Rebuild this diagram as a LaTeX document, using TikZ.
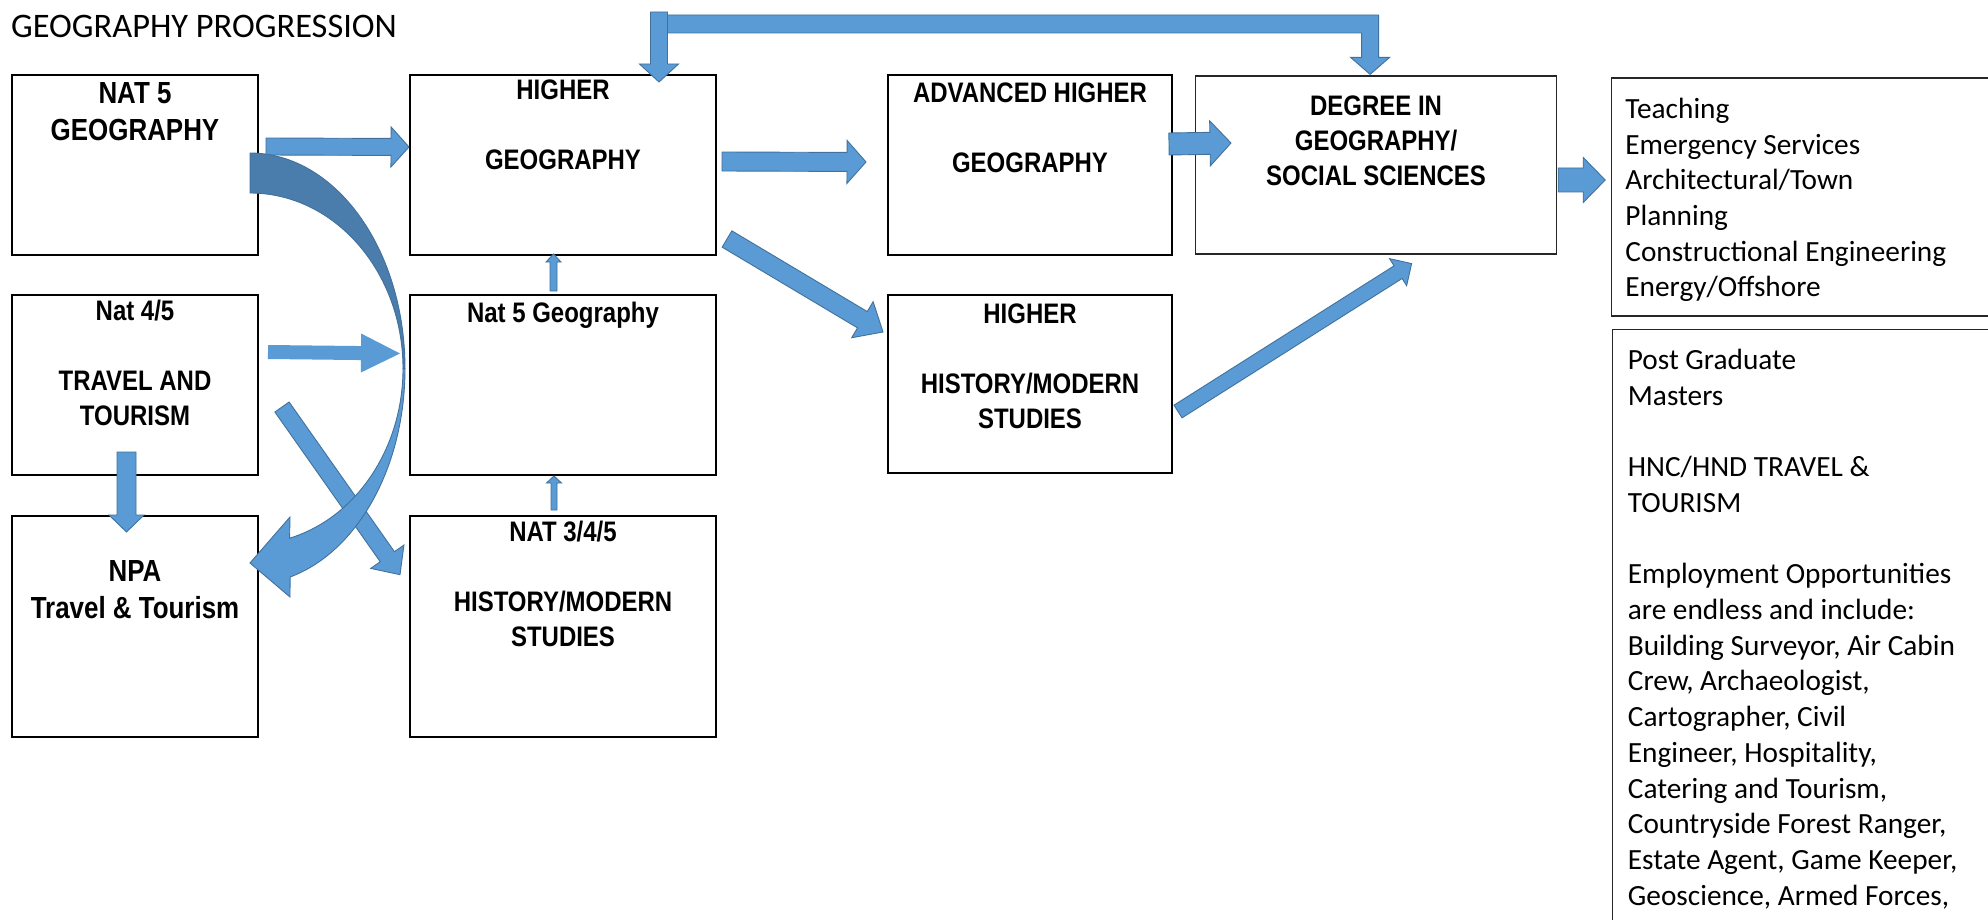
\documentclass[tikz,border=0pt]{standalone}
\usepackage{fontspec}
\setmainfont{Carlito}
\newfontfamily\boxfont[FakeStretch=0.85]{Liberation Sans}
\usetikzlibrary{calc,positioning}

\definecolor{arrowblue}{HTML}{5B9BD5}
\definecolor{arrowedge}{HTML}{41719C}
\definecolor{arrowback}{HTML}{4A7DAB}

\tikzset{
  box/.style={draw=black, line width=2pt, inner sep=0pt},
  thinbox/.style={draw=black!85, line width=1.2pt, inner sep=0pt},
  smalltxt/.style={font=\boxfont\bfseries\fontsize{28.2}{35}\selectfont, align=center, anchor=base, inner sep=0pt},
  bigtxt/.style={smalltxt, font=\boxfont\bfseries\fontsize{30.5}{37}\selectfont},
  listtxt/.style={font=\fontsize{29.3}{35.7}\selectfont, align=left, anchor=base west, inner sep=0pt},
  fatarrow/.style={fill=arrowblue, draw=arrowedge, line width=0.9pt, line join=miter}
}

% block arrow: [options]{from}{to}{half shaft}{half head}{head length}
\newcommand\fatarrow[6][]{%
  \coordinate (fa-s) at (#2);
  \coordinate (fa-t) at (#3);
  \coordinate (fa-h) at ($(fa-t)!#6!(fa-s)$);
  \filldraw[fatarrow,#1]
    ($(fa-s)!#4!90:(fa-t)$) -- ($(fa-h)!#4!90:(fa-t)$) --
    ($(fa-h)!#5!90:(fa-t)$) -- (fa-t) --
    ($(fa-h)!#5!-90:(fa-t)$) -- ($(fa-h)!#4!-90:(fa-t)$) --
    ($(fa-s)!#4!-90:(fa-t)$) -- cycle;
}

\begin{document}
\begin{tikzpicture}[x=1pt, y=-1pt]
  \useasboundingbox (0,0) rectangle (1988,920);
  \fill[white] (0,0) rectangle (1988,920);
  \clip (0,0) rectangle (1988,920);

  \node[anchor=base west, inner sep=0pt, font=\fontsize{34.4}{41}\selectfont] (title) at (11,38) {GEOGRAPHY PROGRESSION};

  % Boxes
  \node[box, minimum width=246pt, minimum height=180pt] (nat5geo) at (135,165) {};
  \node[box, minimum width=246pt, minimum height=180pt, below=38pt of nat5geo] (travel) {};
  \node[box, minimum width=246pt, minimum height=221pt, below=39pt of travel] (npa) {};
  \node[box, minimum width=306pt, minimum height=180pt, right=150pt of nat5geo] (higher) {};
  \node[box, minimum width=306pt, minimum height=180pt, below=38pt of higher] (nat5) {};
  \node[box, minimum width=306pt, minimum height=221pt, below=39pt of nat5] (nat345) {};
  \node[box, minimum width=284pt, minimum height=180pt, right=170pt of higher] (advhigher) {};
  \node[box, minimum width=284pt, minimum height=178pt, below=38pt of advhigher] (highhist) {};
  \node[thinbox, minimum width=361pt, minimum height=178pt, right=22pt of advhigher] (degree) {};
  \node[thinbox, minimum width=378pt, minimum height=238pt, below right=2pt and 54pt of degree.north east] (careers) {};
  \node[thinbox, minimum width=377pt, minimum height=631pt, below=12pt of careers] (further) {};

  % Box texts (anchored at the last line)
  \node[bigtxt] (nat5geo-t) at ($(nat5geo.north)+(0,67)$) {NAT 5\\GEOGRAPHY};
  \node[smalltxt] (travel-t) at ($(travel.north)+(0,131)$) {Nat 4/5\\~\\TRAVEL AND\\TOURISM};
  \node[bigtxt] (npa-t) at ($(npa.north)+(0,103)$) {NPA\\Travel \& Tourism};
  \node[smalltxt] (higher-t) at ($(higher.north)+(0,96)$) {HIGHER\\~\\GEOGRAPHY};
  \node[smalltxt] (nat5-t) at ($(nat5.north)+(0,28)$) {Nat 5 Geography};
  \node[smalltxt] (nat345-t) at ($(nat345.north)+(0,131)$) {NAT 3/4/5\\~\\HISTORY/MODERN\\STUDIES};
  \node[smalltxt] (advhigher-t) at ($(advhigher.north)+(0,99)$) {ADVANCED HIGHER\\~\\GEOGRAPHY};
  \node[smalltxt] (highhist-t) at ($(highhist.north)+(0,134)$) {HIGHER\\~\\HISTORY/MODERN\\STUDIES};
  \node[smalltxt] (degree-t) at ($(degree.north)+(0,110)$) {DEGREE IN\\GEOGRAPHY/\\SOCIAL SCIENCES};
  \node[listtxt] (careers-t) at ($(careers.north west)+(14,219.5)$) {Teaching\\Emergency Services\\Architectural/Town\\Planning\\Constructional Engineering\\Energy/Offshore};
  \node[listtxt] (further-t) at ($(further.north west)+(16,576.5)$) {Post Graduate\\Masters\\~\\HNC/HND TRAVEL \&\\TOURISM\\~\\Employment Opportunities\\are endless and include:\\Building Surveyor, Air Cabin\\Crew, Archaeologist,\\Cartographer, Civil\\Engineer, Hospitality,\\Catering and Tourism,\\Countryside Forest Ranger,\\Estate Agent, Game Keeper,\\Geoscience, Armed Forces,};

  % Arrows
  \fatarrow{$(nat5geo.east)+(7,-18.5)$}{$(higher.west)+(0,-18)$}{8.5pt}{20pt}{18pt}
  \fatarrow{$(higher.east)+(5,-3.5)$}{$(advhigher.west)+(-21,-3)$}{9.5pt}{21.5pt}{19pt}
  \fatarrow{$(advhigher.east)+(-4,-21)$}{$(degree.west)+(36,-22)$}{11pt}{22.5pt}{21pt}
  \fatarrow{$(degree.east)+(1,15)$}{$(careers.west)+(-6,-17)$}{12pt}{22.5pt}{22pt}
  \fatarrow{$(higher.south east)+(10,-17)$}{$(highhist.north west)+(-4,38)$}{9.5pt}{21pt}{24pt}
  \fatarrow{$(highhist.east)+(5,27.5)$}{$(degree.south)+(35.5,9)$}{7.5pt}{16pt}{16pt}
  \fatarrow[draw=none]{$(travel.east)+(9,-33)$}{$(nat5.west)+(-9,-31.5)$}{7pt}{19.5pt}{39pt}
  \fatarrow{$(travel.east)+(23,22)$}{$(nat345.north west)+(-9,59.7)$}{8.7pt}{20.3pt}{22pt}
  \fatarrow{$(travel.south)+(-8.5,-24)$}{$(npa.north)+(-8.5,17)$}{9.5pt}{17.5pt}{17pt}

  % Small arrows
  \fatarrow{$(nat5.north)+(-9.5,-3)$}{$(higher.south)+(-9.5,-2)$}{3.5pt}{7.5pt}{8pt}
  \fatarrow{$(nat345.north)+(-9,-5)$}{$(nat5.south)+(-9,0)$}{3pt}{7.5pt}{7pt}

  % Top bent arrow
  \filldraw[fatarrow] ($(higher.north)+(88,-59)$) -| ($(degree.north)+(2.5,-18)$) -- +(11,0)
    -- ($(degree.north)+(-6,-1)$) -- ($(degree.north)+(-25.5,-18)$) -- +(11,0)
    |- ($(higher.north)+(88,-41)$) -- cycle;
  \fatarrow{$(higher.north)+(96,-62)$}{$(higher.north)+(96,8)$}{8.5pt}{19.5pt}{18pt}

  % Curved arrow
  \filldraw[fatarrow, fill=arrowback] (250,153) .. controls (335.6,153) and (405,249.6) .. (405,368.7)
    -- (403,368.6) .. controls (403,271.6) and (334.5,193) .. (250,193) -- cycle;
  \filldraw[fatarrow] (403,368.6) .. controls (403,448.1) and (356.5,517.6) .. (289.6,538.2)
    -- (290,517) -- (250,563) -- (290,597) -- (290.1,577)
    .. controls (357.9,551.8) and (405,466.3) .. (405,368.7) -- cycle;
\end{tikzpicture}
\end{document}
